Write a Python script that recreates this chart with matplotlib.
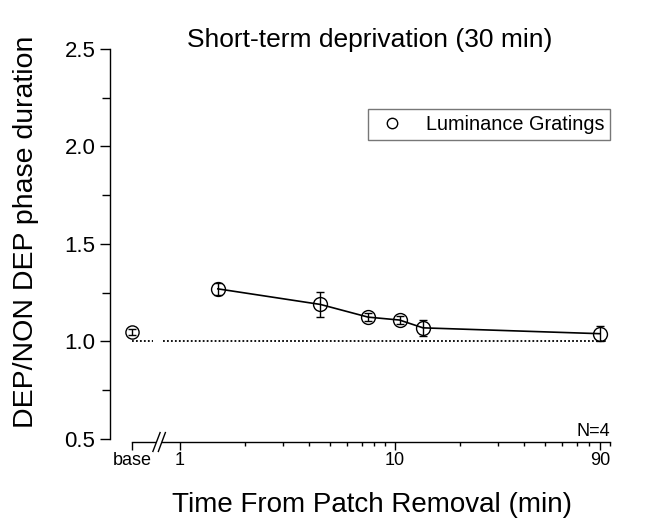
import numpy as np
import matplotlib
matplotlib.use("Agg")
import matplotlib.pyplot as plt
import matplotlib.transforms as mtransforms
from matplotlib.lines import Line2D
from matplotlib.ticker import FixedLocator, NullFormatter

plt.rcParams["font.family"] = ["Liberation Sans", "DejaVu Sans"]

# baseline measurement (drawn at a fake log position left of the axis break)
BASE_X = 0.6
base_mean = [1.05]
base_err = [0.015]

# post-patch time points (min) and DEP/NON DEP ratio
times = [1.5, 4.5, 7.5, 10.5, 13.5, 90]
ratio = [1.27, 1.19, 1.125, 1.11, 1.07, 1.04]
ratio_err = [0.03, 0.065, 0.02, 0.02, 0.04, 0.04]

x_ticks = [BASE_X, 1, 10, 90]
x_ticklabels = ["base", "1", "10", "90"]
y_ticks = [0.5, 1.0, 1.5, 2.0, 2.5]

fig = plt.figure(figsize=(6.54, 5.29), dpi=100)
ax = fig.add_axes([110 / 654, 87 / 529, 500 / 654, 393 / 529])

ax.set_xscale("log")
ax.set_xlim(0.4725, 100)
ax.set_ylim(0.4846, 2.5)

# reference line at ratio = 1 (broken like the x axis)
ax.plot([0.595, 0.75], [1.0, 1.0], ls=(0, (1, 1.2)), color="black", lw=1.3)
ax.plot([0.834, 97], [1.0, 1.0], ls=(0, (1, 1.2)), color="black", lw=1.3)

ax.errorbar(times, ratio, yerr=ratio_err, fmt="-o", color="black", lw=1.2,
            mfc="none", mec="black", mew=1.0, ms=10, capsize=3, elinewidth=1.0,
            zorder=3)
ax.errorbar([BASE_X], base_mean, yerr=base_err, fmt="o", color="black",
            mfc="none", mec="black", mew=1.0, ms=9.5, capsize=3, elinewidth=1.0,
            zorder=3)

# spines
for s in ["top", "right", "bottom"]:
    ax.spines[s].set_visible(False)
ax.spines["left"].set_bounds(0.5, 2.5)
ax.spines["left"].set_linewidth(1.0)

# broken bottom axis
trans = mtransforms.blended_transform_factory(ax.transData, ax.transAxes)
ax.plot([BASE_X, 0.765], [0, 0], color="black", lw=1.0, transform=trans, clip_on=False)
ax.plot([0.825, 100], [0, 0], color="black", lw=1.0, transform=trans, clip_on=False)
for x0, x1 in [(0.748, 0.808), (0.793, 0.855)]:
    ax.plot([x0, x1], [-0.024, 0.024], color="black", lw=1.0, transform=trans, clip_on=False)

ax.xaxis.set_major_locator(FixedLocator(x_ticks))
ax.set_xticklabels(x_ticklabels)
minor = [m * 10 ** e for e in (0, 1) for m in range(2, 10)] + [100]
minor = [m for m in minor if m != 90]
ax.xaxis.set_minor_locator(FixedLocator(minor))
ax.xaxis.set_minor_formatter(NullFormatter())
ax.tick_params(axis="x", which="major", direction="out", length=5.5, width=1.0,
               pad=1.5, labelsize=13)
ax.tick_params(axis="x", which="minor", direction="out", length=3, width=1.0)

ax.yaxis.set_major_locator(FixedLocator(y_ticks))
ax.yaxis.set_minor_locator(FixedLocator([0.75, 1.25, 1.75, 2.25]))
ax.set_yticklabels([f"{v:.1f}" for v in y_ticks])
ax.tick_params(axis="y", which="major", direction="out", length=7, width=1.0,
               pad=3.5, labelsize=16)
ax.tick_params(axis="y", which="minor", direction="out", length=6, width=1.0)

ax.set_ylabel("DEP/NON DEP phase duration", fontsize=20.5)
ax.yaxis.set_label_coords(-0.142, 0.534)
ax.set_xlabel("Time From Patch Removal (min)", fontsize=20)
ax.xaxis.set_label_coords(0.524, -0.128)

ax.text(0.52, 1.023, "Short-term deprivation (30 min)", transform=ax.transAxes,
        ha="center", va="center", fontsize=19)
ax.text(1.0, 0.006, "N=4", transform=ax.transAxes, ha="right", va="bottom", fontsize=13)

handle = Line2D([], [], ls="none", marker="o", ms=7.5, mfc="none", mec="black", mew=1.0)
leg = ax.legend([handle], ["Luminance Gratings"], loc="upper right",
                bbox_to_anchor=(1.0, 0.847), fontsize=14.3, frameon=True,
                fancybox=False, edgecolor="#555555", borderpad=0.3,
                handlelength=1.8, handletextpad=0.8, borderaxespad=0)
leg.get_frame().set_linewidth(1.0)

fig.savefig("out.png", dpi=100)
